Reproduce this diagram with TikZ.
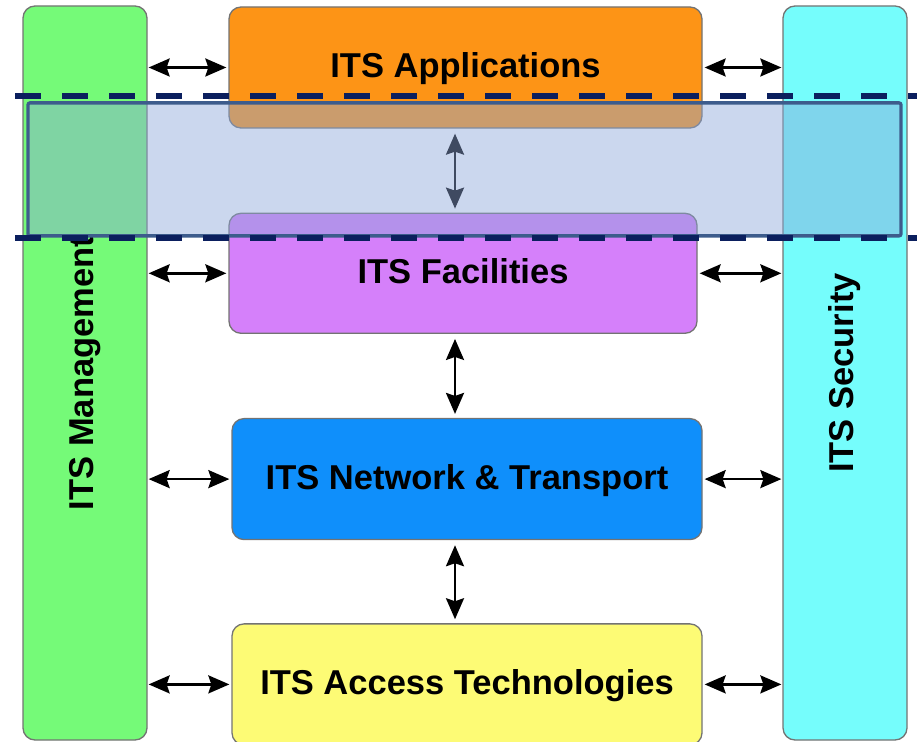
\documentclass[tikz,border=0pt]{standalone}
\usepackage{fontspec}
\setmainfont{Liberation Sans}
\usepackage{graphicx}
\usetikzlibrary{positioning,arrows.meta}
\definecolor{mgmtgreen}{HTML}{75FA78}
\definecolor{appsorange}{HTML}{FD9416}
\definecolor{faclilac}{HTML}{D580FA}
\definecolor{netblue}{HTML}{0F8FFB}
\definecolor{accyellow}{HTML}{FDFB75}
\definecolor{seccyan}{HTML}{75FDFC}
\definecolor{bandfill}{HTML}{8CA6D9}
\definecolor{bandedge}{HTML}{3D5C8C}
\definecolor{cutnavy}{HTML}{0B1F5E}

\begin{document}
\begin{tikzpicture}[x=1pt, y=1pt,
      box/.style={draw=black!55, line width=1.3pt, rounded corners=12pt, minimum height=121pt,
        font=\fontsize{34.5}{40}\selectfont\bfseries, text=black},
      layer/.style={box, text height=24.8pt, text depth=4pt},
      column/.style={box, minimum width=124pt, minimum height=734pt},
      biarrow/.style={{Stealth[length=21pt,width=18pt,inset=3pt]}-{Stealth[length=21pt,width=18pt,inset=3pt]}, line width=2.5pt},
      band/.style={draw=bandedge, line width=3.3pt, fill=bandfill, fill opacity=0.45, rounded corners=2pt,
        minimum width=873pt, minimum height=133pt},
      cutline/.style={draw=cutnavy, line width=6pt, dash pattern=on 26pt off 21pt}]
    \useasboundingbox (0,0) rectangle (917,741);

    \node[column, fill=mgmtgreen](mgmt) at (85,368) {\rotatebox{90}{ITS Management}};
    \node[column, fill=seccyan](sec) at (845,368) {\rotatebox{90}{ITS Security}};

    \node[layer, fill=appsorange, minimum width=473pt](app) at (465.5,673.5) {ITS Applications};
    \node[layer, fill=faclilac, minimum width=468pt, minimum height=120pt, below=84pt of app.south west, anchor=north west](fac) {ITS Facilities};
    \node[layer, fill=netblue, minimum width=470pt, below=84pt of fac.south west, anchor=north west, xshift=3pt](net) {ITS Network \& Transport};
    \node[layer, fill=accyellow, minimum width=470pt, below=83pt of net.south west, anchor=north west](acc) {ITS Access Technologies};

    \foreach \layer in {app,fac,net,acc} {
      \draw[biarrow, shorten <=1pt, shorten >=2pt] (mgmt.east |- \layer.west) -- (\layer.west);
      \draw[biarrow, shorten <=2pt, shorten >=1pt] (\layer.east) -- (sec.west |- \layer.east);
    }

    \coordinate (spine) at (455,0);
    \draw[biarrow, shorten <=5pt, shorten >=4pt] (app.south -| spine) -- (fac.north -| spine);
    \draw[biarrow, shorten <=5pt, shorten >=4pt] (fac.south -| spine) -- (net.north -| spine);
    \draw[biarrow, shorten <=5pt, shorten >=4pt] (net.south -| spine) -- (acc.north -| spine);

    \node[band](stack) at (464.5,571.6) {};
    \coordinate (cuttopL) at (15,645.3);
    \coordinate (cuttopR) at (917,645.3);
    \coordinate (cutbotL) at (15,503);
    \coordinate (cutbotR) at (917,503);
    \draw[cutline] (cuttopL) -- (cuttopR);
    \draw[cutline] (cutbotL) -- (cutbotR);
  \end{tikzpicture}
\end{document}
